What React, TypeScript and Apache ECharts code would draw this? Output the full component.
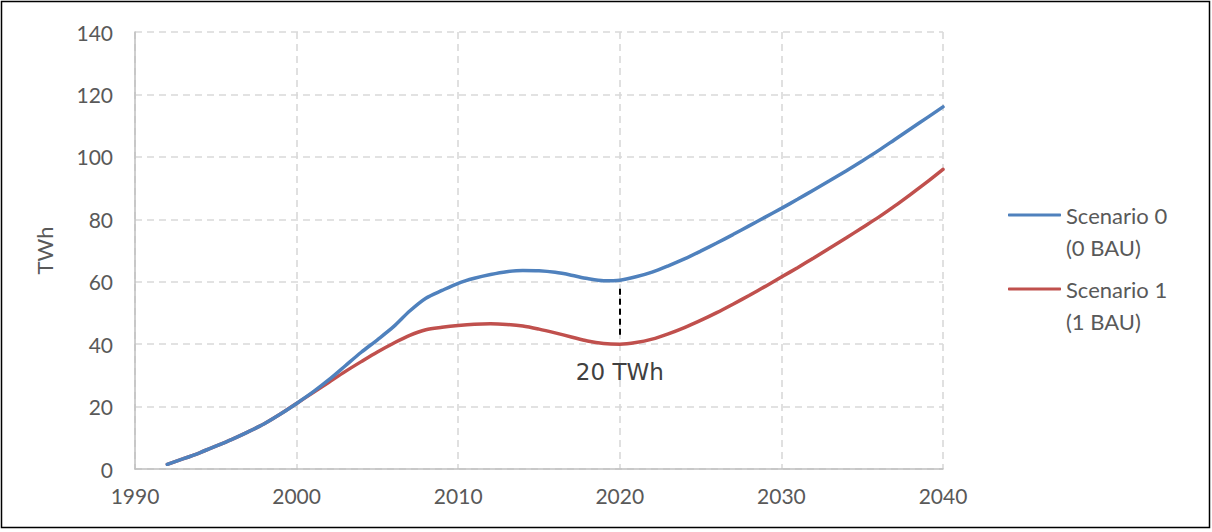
import React, { useEffect, useRef } from "react";
import * as echarts from "echarts";

const years = [1992, 1993, 1994, 1995, 1996, 1997, 1998, 1999, 2000, 2001, 2002, 2003, 2004, 2005, 2006, 2007, 2008, 2009, 2010, 2011, 2012, 2013, 2014, 2015, 2016, 2017, 2018, 2019, 2020, 2021, 2022, 2023, 2024, 2025, 2026, 2027, 2028, 2029, 2030, 2031, 2032, 2033, 2034, 2035, 2036, 2037, 2038, 2039, 2040];
const scenario0 = [1.5, 3.3, 5.2, 7.3, 9.5, 11.9, 14.5, 17.6, 21, 24.6, 28.6, 33, 37.4, 41.4, 45.6, 50.6, 54.7, 57.2, 59.5, 61.1, 62.3, 63.2, 63.6, 63.5, 63.0, 62.1, 61.0, 60.3, 60.5, 61.6, 63.1, 65.1, 67.3, 69.8, 72.4, 75.1, 77.9, 80.7, 83.5, 86.4, 89.4, 92.4, 95.5, 98.7, 102, 105.5, 109, 112.5, 116];
const scenario1 = [1.5, 3.3, 5.2, 7.3, 9.5, 11.9, 14.5, 17.6, 21, 24.4, 27.8, 31.2, 34.4, 37.5, 40.3, 42.8, 44.6, 45.4, 46.0, 46.4, 46.5, 46.3, 45.8, 44.8, 43.6, 42.3, 41.0, 40.2, 40.0, 40.5, 41.6, 43.3, 45.3, 47.6, 50.1, 52.8, 55.6, 58.5, 61.5, 64.5, 67.6, 70.8, 74.0, 77.3, 80.6, 84.2, 88, 91.9, 96];
const seriesNames = ["Scenario 0\n(0 BAU)", "Scenario 1\n(1 BAU)"];
const gapYear = 2020;
const gapFrom = 43;
const gapTo = 59;
const gapLabel = "20 TWh";
const gapLabelValue = 31;

export default function App() {
  const ref = useRef<HTMLDivElement>(null);
  useEffect(() => {
    const chart = echarts.init(ref.current!, null, { renderer: "svg" });
    const font = "Lato, 'Liberation Sans', sans-serif";
    const gridLine = { show: true, lineStyle: { color: "#d9d9d9", type: [7, 5], width: 1.6 } };
    chart.setOption({
      animation: false,
      backgroundColor: "#ffffff",
      textStyle: { fontFamily: font },
      grid: { left: 135, right: 269, top: 32, bottom: 63, containLabel: false },
      graphic: [
        {
          type: "rect",
          shape: { x: 1.5, y: 1.5, width: 1208, height: 526 },
          style: { fill: "none", stroke: "#000", lineWidth: 1.5 },
          silent: true,
          z: 100,
        },
      ],
      legend: {
        orient: "vertical",
        left: 1008,
        top: 167,
        padding: 0,
        itemGap: -22,
        itemWidth: 53,
        itemHeight: 3,
        itemStyle: { borderWidth: 0 },
        icon: "roundRect",
        formatter: (name: string) => "\n" + name,
        textStyle: {
          fontFamily: font,
          fontSize: 22,
          color: "#595959",
          lineHeight: 32,
        },
        data: seriesNames,
      },
      xAxis: {
        type: "value",
        min: 1990,
        max: 2040,
        interval: 10,
        axisLine: { show: true, lineStyle: { color: "#bfbfbf", width: 1.5 } },
        axisTick: { show: false },
        axisLabel: { color: "#595959", fontSize: 21, margin: 16, fontFamily: font, formatter: (v: number) => String(v) },
        splitLine: gridLine,
      },
      yAxis: {
        type: "value",
        min: 0,
        max: 140,
        interval: 20,
        name: "TWh",
        nameLocation: "middle",
        nameGap: 80,
        nameRotate: 90,
        nameTextStyle: { color: "#595959", fontSize: 22, fontFamily: font },
        axisLine: { show: true, lineStyle: { color: "#bfbfbf", width: 1.5 } },
        axisTick: { show: false },
        axisLabel: { color: "#595959", fontSize: 21, margin: 22, fontFamily: font },
        splitLine: gridLine,
      },
      series: [
        {
          name: seriesNames[0],
          type: "line",
          data: years.map((y, i) => [y, scenario0[i]]),
          smooth: 0.3,
          showSymbol: false,
          symbol: "none",
          lineStyle: { color: "#4f81bd", width: 3.5, cap: "round" },
          itemStyle: { color: "#4f81bd" },
          z: 3,
          markLine: {
            silent: true,
            symbol: ["none", "none"],
            label: { show: false },
            lineStyle: { color: "#000", type: [6, 4], width: 2 },
            data: [[{ coord: [gapYear, gapFrom] }, { coord: [gapYear, gapTo] }]],
          },
          markPoint: {
            silent: true,
            symbol: "circle",
            symbolSize: 0,
            label: {
              show: true,
              position: "inside",
              formatter: gapLabel,
              color: "#404040",
              fontSize: 23,
              fontFamily: "'DejaVu Sans', sans-serif",
            },
            data: [{ coord: [gapYear, gapLabelValue] }],
          },
        },
        {
          name: seriesNames[1],
          type: "line",
          data: years.map((y, i) => [y, scenario1[i]]),
          smooth: 0.3,
          showSymbol: false,
          symbol: "none",
          lineStyle: { color: "#c0504d", width: 3.5, cap: "round" },
          itemStyle: { color: "#c0504d" },
          z: 2,
        },
      ],
    });
    return () => chart.dispose();
  }, []);
  return (
    <div
      ref={ref}
      style={{ position: "absolute", left: 0, top: 0, width: 1212, height: 532 }}
    />
  );
}
